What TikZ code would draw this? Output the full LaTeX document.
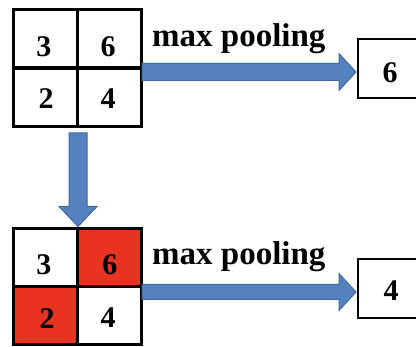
\documentclass[tikz,border=0pt]{standalone}
\usepackage{fontspec}
\setmainfont{Liberation Serif}
\usetikzlibrary{calc}
\definecolor{arrblue}{RGB}{84,130,190}
\definecolor{arredge}{RGB}{65,105,160}
\definecolor{cellred}{RGB}{232,51,33}
\tikzset{
  cell/.style={draw=black, line width=3pt, minimum width=64pt, minimum height=58pt, inner sep=0pt},
  outbox/.style={draw=black, line width=2pt, fill=white, minimum width=66pt, minimum height=59pt, inner sep=0pt},
  digit/.style={font=\fontsize{30}{32}\selectfont\bfseries, inner sep=0pt},
  lbl/.style={font=\fontsize{33}{35}\selectfont\bfseries, inner sep=0pt, anchor=base west},
  fatarr/.style={fill=arrblue, draw=arredge, line width=1pt, line join=miter},
}
\begin{document}
\begin{tikzpicture}[x=1pt,y=-1pt]
\clip (0,0) rectangle (416,347);
\fill[white] (0,0) rectangle (416,347);
% top grid
\node[cell] (t11) at (45,39) {};
\node[cell] (t12) at (109,39) {};
\node[cell] (t21) at (45,98) {};
\node[cell] (t22) at (109,98) {};
\node[digit] (dt11) at (44,47) {3};
\node[digit] (dt12) at (108,47) {6};
\node[digit] (dt21) at (46,99) {2};
\node[digit] (dt22) at (108,99) {4};
% bottom grid
\node[cell, fill=white] (b11) at (45,258) {};
\node[cell, fill=cellred] (b12) at (109,258) {};
\node[cell, fill=cellred] (b21) at (45,316) {};
\node[cell, fill=white] (b22) at (109,316) {};
\node[digit] (db11) at (44,265) {3};
\node[digit] (db12) at (110,265) {6};
\node[digit] (db21) at (47,319) {2};
\node[digit] (db22) at (108,318) {4};
% output boxes
\node[outbox] (o1) at (391,69) {};
\node[digit] (do1) at (390,73) {6};
\node[outbox] (o2) at (391,289) {};
\node[digit] (do2) at (391,291) {4};
% labels
\node[lbl] (l1) at (152,47) {max pooling};
\node[lbl] (l2) at (152,265) {max pooling};
% arrows
\coordinate (a1s) at (142,72);
\coordinate (a2s) at (142,292);
\coordinate (a3s) at (78,133);
\coordinate (a1t) at ($(a1s -| o1.west)+(-1,0)$);
\coordinate (a2t) at ($(a2s -| o2.west)+(-1,0)$);
\coordinate (a3t) at ($(a3s |- b11.north)+(0,-1)$);
\filldraw[fatarr] let \p1=(a1s), \p2=(a1t) in
  (\x1,\y1+8.5pt) -- (\x2-17pt,\y1+8.5pt) -- (\x2-17pt,\y1+18.5pt) -- (\x2,\y1)
  -- (\x2-17pt,\y1-18.5pt) -- (\x2-17pt,\y1-8.5pt) -- (\x1,\y1-8.5pt) -- cycle;
\filldraw[fatarr] let \p1=(a2s), \p2=(a2t) in
  (\x1,\y1+7.5pt) -- (\x2-17pt,\y1+7.5pt) -- (\x2-17pt,\y1+18.5pt) -- (\x2,\y1)
  -- (\x2-17pt,\y1-18.5pt) -- (\x2-17pt,\y1-7.5pt) -- (\x1,\y1-7.5pt) -- cycle;
\filldraw[fatarr] let \p1=(a3s), \p2=(a3t) in
  (\x1-9pt,\y1) -- (\x1-9pt,\y2+20pt) -- (\x1-19pt,\y2+20pt) -- (\x1,\y2)
  -- (\x1+19pt,\y2+20pt) -- (\x1+9pt,\y2+20pt) -- (\x1+9pt,\y1) -- cycle;
\end{tikzpicture}
\end{document}
